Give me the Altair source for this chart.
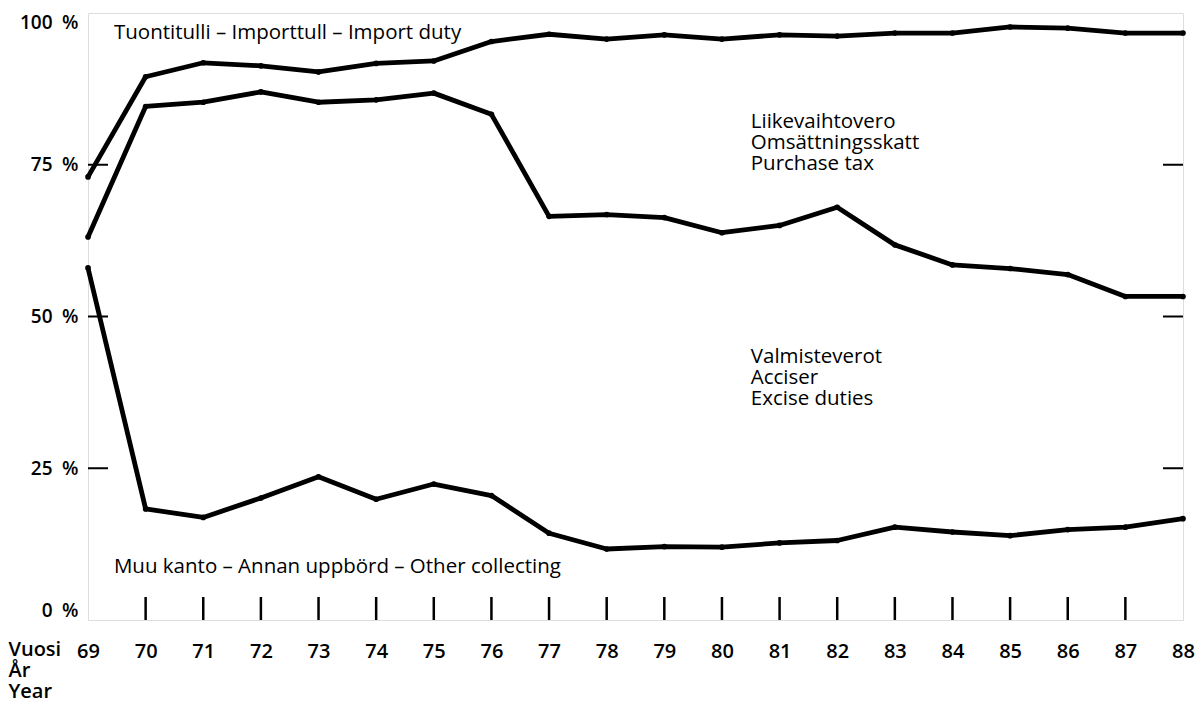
import altair as alt
import pandas as pd

years = list(range(69, 89))
# cumulative boundaries (%)
import_duty_boundary = [73.0, 89.5, 91.8, 91.3, 90.3, 91.7, 92.1, 95.3, 96.5, 95.7,
                        96.4, 95.7, 96.4, 96.2, 96.7, 96.7, 97.7, 97.5, 96.7, 96.7]
purchase_tax_boundary = [63.1, 84.6, 85.3, 87.0, 85.3, 85.7, 86.8, 83.3, 66.5, 66.8,
                         66.3, 63.8, 65.0, 68.0, 61.8, 58.5, 57.9, 56.9, 53.3, 53.3]
other_boundary = [58.0, 18.3, 16.9, 20.1, 23.6, 19.9, 22.4, 20.5, 14.3, 11.7,
                  12.1, 12.0, 12.7, 13.1, 15.3, 14.5, 13.9, 14.9, 15.3, 16.7]

y_ticks = [25, 50, 75]
x_ticks = list(range(70, 88))

labels_text = [
    "Tuontitulli \u2013 Importtull \u2013 Import duty",
    ["Liikevaihtovero", "Omsättningsskatt", "Purchase tax"],
    ["Valmisteverot", "Acciser", "Excise duties"],
    "Muu kanto \u2013 Annan uppbörd \u2013 Other collecting",
]
labels_x = [69.45, 80.5, 80.5, 69.45]
labels_y = [96.7, 82.05, 43.3, 8.7]

W, H = 1095, 607
FONT = "Open Sans"

rows = []
for name, vals in [("import", import_duty_boundary), ("purchase", purchase_tax_boundary),
                   ("other", other_boundary)]:
    for yr, v in zip(years, vals):
        rows.append({"year": yr, "value": v, "series": name})
df = pd.DataFrame(rows)

xscale = alt.Scale(domain=[69, 88], nice=False, zero=False)
yscale = alt.Scale(domain=[0, 100], nice=False)

base = alt.Chart(df)

lines = base.mark_line(color="black", strokeWidth=4.8, strokeJoin="round").encode(
    x=alt.X("year:Q", scale=xscale,
            axis=alt.Axis(values=years, format="d", tickSize=0, domain=False, grid=False,
                          labelPadding=21, labelFontSize=20, labelFont=FONT,
                          labelFontWeight=600, labelColor="black",
                          title=["Vuosi", "År", "Year"], titleX=-80, titleY=19,
                          titleAlign="left", titleBaseline="top", titleFont=FONT,
                          titleFontSize=20, titleFontWeight=600, titleLineHeight=21,
                          titleColor="black", labelFlush=False, labelOverlap=False)),
    y=alt.Y("value:Q", scale=yscale,
            axis=alt.Axis(values=[0, 25, 50, 75, 100], labelExpr="datum.value + '\u2002%'",
                          tickSize=0, domain=False, grid=False, labelPadding=10,
                          labelFontSize=19, labelFont=FONT, labelFontWeight=600,
                          labelColor="black", labelFlush=True, title=None)),
    detail="series:N",
)

points = base.mark_circle(color="black", size=32, opacity=1).encode(
    x=alt.X("year:Q", scale=xscale), y=alt.Y("value:Q", scale=yscale))

ydf = pd.DataFrame({"v": y_ticks})
left_ticks = alt.Chart(ydf).mark_rule(color="black", strokeWidth=2).encode(
    y=alt.Y("v:Q", scale=yscale), x=alt.value(0), x2=alt.value(20))
right_ticks = alt.Chart(ydf).mark_rule(color="black", strokeWidth=2).encode(
    y=alt.Y("v:Q", scale=yscale), x=alt.value(W - 20), x2=alt.value(W))

xdf = pd.DataFrame({"yr": x_ticks})
bottom_ticks = alt.Chart(xdf).mark_rule(color="black", strokeWidth=2.5).encode(
    x=alt.X("yr:Q", scale=xscale), y=alt.value(H), y2=alt.value(H - 23))

ldf = pd.DataFrame({"t": labels_text, "x": labels_x, "y": labels_y})
texts = alt.Chart(ldf).mark_text(align="left", baseline="middle", font=FONT, fontSize=20.5,
                                 color="black", lineHeight=21).encode(
    x=alt.X("x:Q", scale=xscale), y=alt.Y("y:Q", scale=yscale), text="t")

chart = alt.layer(lines, points, left_ticks, right_ticks, bottom_ticks, texts).properties(
    width=W, height=H,
    padding={"left": 80, "top": 5, "right": 13, "bottom": 82},
    autosize=alt.AutoSizeParams(type="none"),
).configure_view(stroke="black", strokeWidth=2.5).configure(background="white")

chart.save("out.html", embed_options={"renderer": "svg", "actions": False})
